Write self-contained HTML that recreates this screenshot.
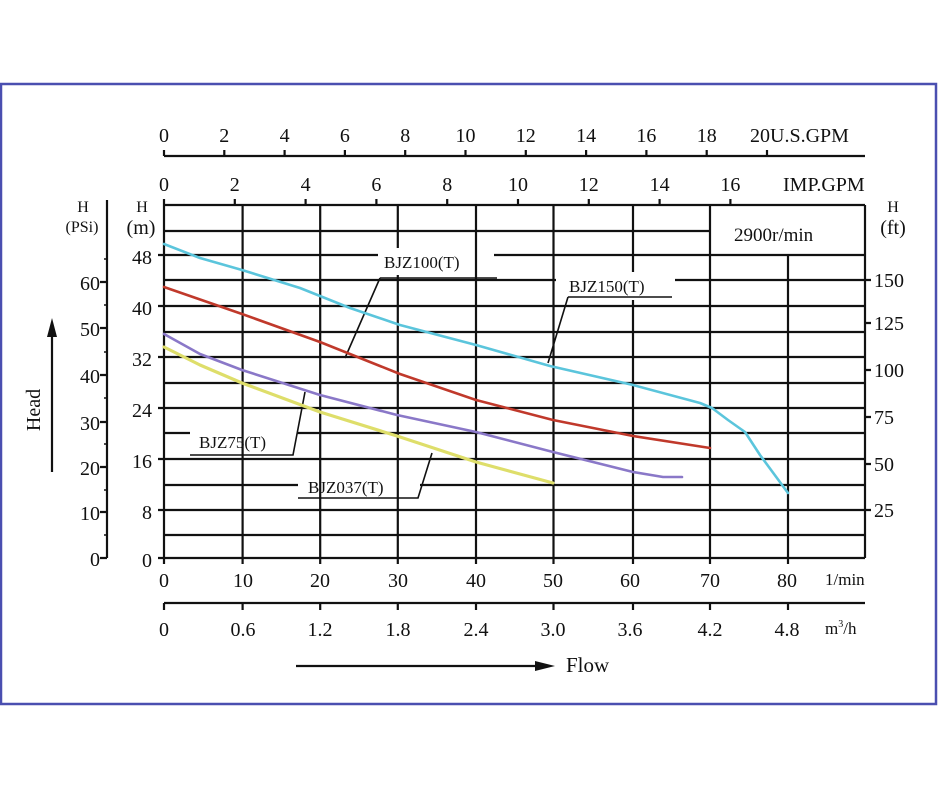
<!DOCTYPE html>
<html><head><meta charset="utf-8"><style>
html,body{margin:0;padding:0;background:#fff;width:940px;height:788px;overflow:hidden}
svg{display:block}
text{font-family:"Liberation Serif",serif;fill:#111}
</style></head><body>
<svg width="940" height="788" viewBox="0 0 940 788" xmlns="http://www.w3.org/2000/svg">
<rect x="1" y="84" width="935" height="620" fill="#fff" stroke="#4a4fb0" stroke-width="2.5"/>
<g stroke="#111" stroke-width="2.2" fill="none">
<!-- US GPM axis -->
<line x1="164" y1="156" x2="865" y2="156"/>
<path d="M164 156v-6M224.3 156v-6M284.6 156v-6M344.9 156v-6M405.2 156v-6M465.5 156v-6M525.8 156v-6M586.1 156v-6M646.4 156v-6M706.7 156v-6M767 156v-6"/>
<!-- IMP ticks -->
<path d="M164 205v-6M234.8 205v-6M305.6 205v-6M376.4 205v-6M447.2 205v-6M518 205v-6M588.8 205v-6M659.6 205v-6M730.4 205v-6"/>
<!-- horizontal grid -->
<line x1="164" y1="205" x2="865" y2="205"/>
<line x1="164" y1="231" x2="710" y2="231"/>
<line x1="158" y1="255" x2="378" y2="255"/><line x1="494" y1="255" x2="865" y2="255"/>
<line x1="164" y1="280" x2="556" y2="280"/><line x1="675" y1="280" x2="865" y2="280"/>
<line x1="158" y1="306" x2="865" y2="306"/>
<line x1="164" y1="332" x2="865" y2="332"/>
<line x1="158" y1="357" x2="865" y2="357"/>
<line x1="164" y1="383" x2="865" y2="383"/>
<line x1="158" y1="408" x2="865" y2="408"/>
<line x1="164" y1="433" x2="190" y2="433"/><line x1="297" y1="433" x2="865" y2="433"/>
<line x1="158" y1="459" x2="865" y2="459"/>
<line x1="164" y1="485" x2="298" y2="485"/><line x1="420" y1="485" x2="865" y2="485"/>
<line x1="158" y1="510" x2="865" y2="510"/>
<line x1="164" y1="535" x2="865" y2="535"/>
<line x1="158" y1="558" x2="865" y2="558"/>
<!-- vertical grid -->
<line x1="164" y1="205" x2="164" y2="564"/>
<line x1="242.6" y1="205" x2="242.6" y2="564"/>
<line x1="320.2" y1="205" x2="320.2" y2="564"/>
<line x1="397.8" y1="205" x2="397.8" y2="248"/><line x1="397.8" y1="275" x2="397.8" y2="564"/>
<line x1="476" y1="205" x2="476" y2="564"/>
<line x1="553.5" y1="205" x2="553.5" y2="564"/>
<line x1="633" y1="205" x2="633" y2="272"/><line x1="633" y1="300" x2="633" y2="564"/>
<line x1="710" y1="205" x2="710" y2="564"/>
<line x1="788" y1="255" x2="788" y2="564"/>
<line x1="865" y1="205" x2="865" y2="558"/>
<!-- PSi axis -->
<line x1="107" y1="200" x2="107" y2="558"/>
<path d="M107 282h-7M107 328h-7M107 375h-7M107 422h-7M107 467h-7M107 512h-7M107 558h-7"/>
<path d="M107 259h-3M107 305h-3M107 352h-3M107 398h-3M107 444h-3M107 490h-3M107 535h-3" stroke-width="1.5"/>
<!-- ft ticks -->
<path d="M865 280h6M865 323h6M865 370h6M865 417h6M865 464h6M865 510h6"/>
<!-- m3/h axis -->
<line x1="164" y1="603" x2="865" y2="603"/>
<path d="M164 603v7M242.6 603v7M320.2 603v7M397.8 603v7M476 603v7M553.5 603v7M633 603v7M710 603v7M788 603v7"/>
<!-- arrows -->
<line x1="296" y1="666" x2="535" y2="666"/>
<line x1="52" y1="472" x2="52" y2="335"/>
<!-- leaders -->
<path d="M380 278H497M380 278L345 358" stroke-width="1.6"/>
<path d="M568 297H672M568 297L548 363" stroke-width="1.6"/>
<path d="M190 455H293L305 392" stroke-width="1.6"/>
<path d="M298 498H418L432 453" stroke-width="1.6"/>
</g>
<polygon points="535,661 555,666 535,671" fill="#111"/>
<polygon points="47,337 52,318 57,337" fill="#111"/>
<!-- curves -->
<g fill="none" stroke-width="2.6" stroke-linejoin="round" stroke-linecap="round">
<polyline stroke="#5bc5dc" points="164,244 200,258 242,270 300,288 350,308 400,325 476,345 550,366 633,385 700,403 712,408 728,420 745,432 760,455 788,493"/>
<polyline stroke="#c0392b" points="164,287 242,314 320,342 400,374 476,400 553,420 633,436 710,448"/>
<polyline stroke="#8a78c8" points="164,334 200,354 242,370 320,395 397,415 476,432 553,452 633,472 663,477 682,477"/>
<polyline stroke="#dede6a" stroke-width="3.2" points="164,347 200,365 242,383 320,412 397,436 476,462 553,483"/>
</g>
<!-- top labels -->
<g font-size="20" text-anchor="middle">
<text x="164" y="142">0</text><text x="224.3" y="142">2</text><text x="284.6" y="142">4</text><text x="344.9" y="142">6</text><text x="405.2" y="142">8</text><text x="465.5" y="142">10</text><text x="525.8" y="142">12</text><text x="586.1" y="142">14</text><text x="646.4" y="142">16</text><text x="706.7" y="142">18</text>
<text x="164" y="191">0</text><text x="234.8" y="191">2</text><text x="305.6" y="191">4</text><text x="376.4" y="191">6</text><text x="447.2" y="191">8</text><text x="518" y="191">10</text><text x="588.8" y="191">12</text><text x="659.6" y="191">14</text><text x="730.4" y="191">16</text>
</g>
<text x="750" y="142" font-size="20">20U.S.GPM</text>
<text x="783" y="191" font-size="20">IMP.GPM</text>
<text x="734" y="241" font-size="19">2900r/min</text>
<!-- m axis labels -->
<g font-size="20" text-anchor="end">
<text x="152" y="264">48</text><text x="152" y="315">40</text><text x="152" y="366">32</text><text x="152" y="417">24</text><text x="152" y="468">16</text><text x="152" y="519">8</text><text x="152" y="567">0</text>
<text x="100" y="290">60</text><text x="100" y="336">50</text><text x="100" y="383">40</text><text x="100" y="430">30</text><text x="100" y="475">20</text><text x="100" y="520">10</text><text x="100" y="566">0</text>
</g>
<text x="83" y="212" font-size="16" text-anchor="middle">H</text>
<text x="82" y="232" font-size="16" text-anchor="middle">(PSi)</text>
<text x="142" y="212" font-size="16" text-anchor="middle">H</text>
<text x="141" y="234" font-size="20" text-anchor="middle">(m)</text>
<text x="893" y="212" font-size="16" text-anchor="middle">H</text>
<text x="893" y="234" font-size="20" text-anchor="middle">(ft)</text>
<g font-size="20">
<text x="874" y="287">150</text><text x="874" y="330">125</text><text x="874" y="377">100</text><text x="874" y="424">75</text><text x="874" y="471">50</text><text x="874" y="517">25</text>
</g>
<!-- bottom labels -->
<g font-size="20" text-anchor="middle">
<text x="164" y="587">0</text><text x="243" y="587">10</text><text x="320" y="587">20</text><text x="398" y="587">30</text><text x="476" y="587">40</text><text x="553" y="587">50</text><text x="630" y="587">60</text><text x="710" y="587">70</text><text x="787" y="587">80</text>
<text x="164" y="636">0</text><text x="243" y="636">0.6</text><text x="320" y="636">1.2</text><text x="398" y="636">1.8</text><text x="476" y="636">2.4</text><text x="553" y="636">3.0</text><text x="630" y="636">3.6</text><text x="710" y="636">4.2</text><text x="787" y="636">4.8</text>
</g>
<text x="825" y="585" font-size="17">1/min</text>
<text x="825" y="634" font-size="17">m<tspan font-size="10" dy="-7">3</tspan><tspan dy="7">/h</tspan></text>
<text x="566" y="672" font-size="21">Flow</text>
<text transform="translate(40,410) rotate(-90)" font-size="20" text-anchor="middle">Head</text>
<!-- series labels -->
<g font-size="17">
<text x="384" y="268">BJZ100(T)</text>
<text x="569" y="292">BJZ150(T)</text>
<text x="199" y="448">BJZ75(T)</text>
<text x="308" y="493">BJZ037(T)</text>
</g>
</svg>
</body></html>
